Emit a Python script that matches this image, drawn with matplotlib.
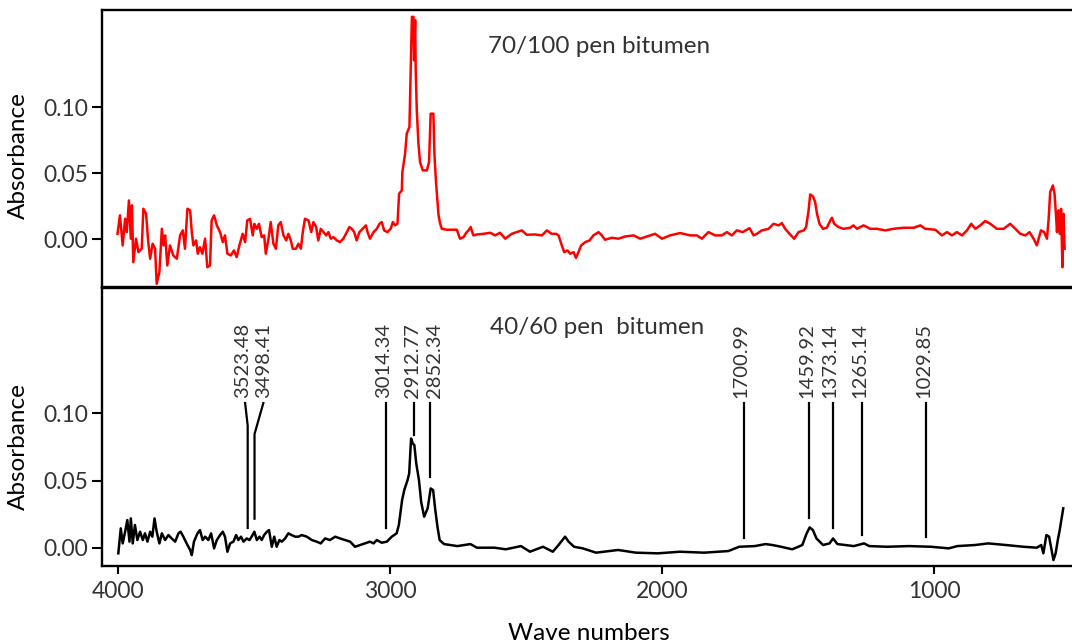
import matplotlib
matplotlib.use("Agg")
import matplotlib.pyplot as plt

# ---- data (wavenumber cm-1, absorbance) ----
wn_70 = [4002, 3993, 3983, 3974, 3968, 3960, 3953, 3949, 3944, 3934, 3925, 3913, 3907, 3897,
         3889, 3882, 3873, 3864, 3858, 3848, 3839, 3833, 3827, 3819, 3809, 3797, 3784, 3772,
         3762, 3754, 3745, 3735, 3729, 3723, 3713, 3707, 3699, 3690, 3680, 3672, 3662, 3656,
         3647, 3637, 3625, 3615, 3607, 3598, 3586, 3574, 3564, 3554, 3542, 3533, 3525, 3515,
         3505, 3499, 3490, 3482, 3472, 3463, 3457, 3447, 3439, 3429, 3420, 3411, 3402, 3392,
         3382, 3374, 3365, 3358, 3346, 3337, 3328, 3321, 3313, 3300, 3290, 3282, 3272, 3264,
         3255, 3245, 3235, 3227, 3218, 3208, 3196, 3184, 3172, 3159, 3150, 3141, 3132, 3123,
         3113, 3101, 3089, 3083, 3074, 3061, 3049, 3039, 3031, 3022, 3010, 2998, 2990, 2982,
         2973, 2967, 2957, 2955, 2945, 2939, 2929, 2924, 2920, 2914, 2912, 2908, 2906, 2902,
         2896, 2890, 2880, 2865, 2857, 2851, 2841, 2837, 2831, 2822, 2816, 2810, 2792, 2755,
         2743, 2730, 2721, 2712, 2704, 2694, 2681, 2657, 2632, 2614, 2596, 2577, 2553, 2516,
         2498, 2467, 2442, 2424, 2406, 2390, 2381, 2369, 2360, 2348, 2338, 2326, 2317, 2308,
         2298, 2283, 2267, 2253, 2234, 2222, 2210, 2185, 2161, 2136, 2105, 2081, 2044, 2026,
         2001, 1971, 1934, 1897, 1873, 1854, 1830, 1805, 1781, 1762, 1744, 1726, 1704, 1679,
         1664, 1652, 1634, 1609, 1591, 1572, 1560, 1548, 1532, 1515, 1499, 1480, 1471, 1462,
         1456, 1446, 1438, 1431, 1422, 1409, 1395, 1382, 1376, 1368, 1352, 1333, 1309, 1297,
         1284, 1260, 1235, 1211, 1180, 1150, 1113, 1076, 1051, 1033, 996, 972, 953, 935,
         917, 898, 880, 864, 849, 831, 813, 794, 770, 745, 721, 702, 684, 665,
         650, 635, 623, 608, 596, 586, 580, 574, 564, 558, 553, 549, 544, 539,
         534, 529, 525, 521]
ab_70 = [0.0040, 0.0180, -0.0048, 0.0154, 0.0053, 0.0293, 0.0003, 0.0256, -0.0175, 0.0003,
         -0.0099, -0.0073, 0.0230, 0.0192, -0.0023, -0.0149, -0.0035, -0.0073, -0.0339, -0.0250,
         0.0078, -0.0048, 0.0028, -0.0200, -0.0048, -0.0124, -0.0149, 0.0028, 0.0066, -0.0073,
         0.0230, 0.0218, 0.0053, -0.0048, -0.0010, -0.0111, -0.0061, -0.0111, 0.0003, -0.0213,
         -0.0200, 0.0142, 0.0180, 0.0104, 0.0053, -0.0023, 0.0028, -0.0111, -0.0124, -0.0086,
         -0.0137, -0.0048, 0.0040, -0.0023, 0.0142, 0.0154, 0.0028, 0.0116, 0.0078, 0.0116,
         0.0015, 0.0028, -0.0111, 0.0003, 0.0129, -0.0035, -0.0073, 0.0104, 0.0129, 0.0028,
         -0.0010, 0.0040, -0.0010, -0.0073, -0.0073, -0.0035, -0.0073, 0.0053, 0.0154, 0.0142,
         0.0053, 0.0129, 0.0091, -0.0010, 0.0078, 0.0053, 0.0028, 0.0053, 0.0003, 0.0015,
         -0.0010, -0.0023, 0.0003, 0.0053, 0.0091, 0.0078, 0.0053, -0.0010, 0.0053, 0.0078,
         0.0104, 0.0053, 0.0003, 0.0053, 0.0078, 0.0116, 0.0129, 0.0066, 0.0053, 0.0078,
         0.0129, 0.0104, 0.0116, 0.0344, 0.0369, 0.0508, 0.0648, 0.0799, 0.0850, 0.1318,
         0.1685, 0.1685, 0.1356, 0.1660, 0.1280, 0.0977, 0.0724, 0.0584, 0.0521, 0.0521,
         0.0584, 0.0951, 0.0951, 0.0635, 0.0420, 0.0180, 0.0116, 0.0078, 0.0071, 0.0071,
         0.0003, 0.0015, 0.0046, 0.0066, 0.0091, 0.0028, 0.0035, 0.0040, 0.0048, 0.0028,
         0.0048, 0.0003, 0.0040, 0.0066, 0.0033, 0.0035, 0.0028, 0.0066, 0.0040, 0.0040,
         0.0028, -0.0048, -0.0099, -0.0086, -0.0111, -0.0099, -0.0142, -0.0099, -0.0048, -0.0023,
         -0.0010, 0.0028, 0.0053, 0.0028, -0.0005, 0.0010, 0.0003, 0.0020, 0.0028, 0.0003,
         0.0028, 0.0040, 0.0003, 0.0028, 0.0046, 0.0028, 0.0028, 0.0003, 0.0053, 0.0028,
         0.0028, 0.0053, 0.0028, 0.0066, 0.0053, 0.0083, 0.0028, 0.0040, 0.0066, 0.0078,
         0.0116, 0.0104, 0.0121, 0.0078, 0.0040, 0.0003, 0.0053, 0.0066, 0.0091, 0.0218,
         0.0339, 0.0324, 0.0281, 0.0192, 0.0116, 0.0078, 0.0086, 0.0142, 0.0162, 0.0116,
         0.0091, 0.0078, 0.0086, 0.0104, 0.0078, 0.0104, 0.0078, 0.0078, 0.0066, 0.0078,
         0.0086, 0.0086, 0.0104, 0.0078, 0.0071, 0.0028, 0.0053, 0.0028, 0.0053, 0.0028,
         0.0066, 0.0116, 0.0078, 0.0104, 0.0137, 0.0116, 0.0078, 0.0078, 0.0116, 0.0078,
         0.0040, 0.0028, 0.0053, 0.0003, -0.0048, 0.0066, 0.0053, 0.0003, 0.0142, 0.0357,
         0.0407, 0.0344, 0.0192, 0.0053, 0.0218, 0.0040, 0.0230, -0.0213, 0.0192, -0.0073]

wn_40 = [3999, 3990, 3983, 3974, 3966, 3958, 3953, 3946, 3938, 3929, 3919, 3909, 3901, 3892,
         3882, 3874, 3866, 3858, 3848, 3839, 3827, 3815, 3803, 3790, 3778, 3770, 3760, 3748,
         3735, 3729, 3721, 3708, 3699, 3689, 3680, 3668, 3658, 3647, 3637, 3625, 3615, 3607,
         3598, 3588, 3576, 3566, 3558, 3548, 3539, 3527, 3517, 3509, 3499, 3490, 3480, 3472,
         3463, 3453, 3445, 3435, 3426, 3417, 3407, 3398, 3386, 3374, 3362, 3349, 3337, 3325,
         3306, 3288, 3270, 3255, 3239, 3221, 3202, 3184, 3165, 3147, 3129, 3110, 3092, 3074,
         3061, 3049, 3031, 3012, 2994, 2976, 2968, 2964, 2956, 2948, 2936, 2930, 2923, 2917,
         2911, 2904, 2894, 2886, 2875, 2862, 2851, 2842, 2834, 2826, 2818, 2802, 2778, 2753,
         2705, 2681, 2616, 2575, 2519, 2486, 2438, 2402, 2381, 2357, 2344, 2324, 2292, 2243,
         2162, 2097, 2016, 1935, 1846, 1757, 1717, 1660, 1620, 1595, 1563, 1522, 1485, 1469,
         1458, 1446, 1433, 1409, 1385, 1372, 1356, 1328, 1296, 1258, 1239, 1174, 1093, 1012,
         947, 915, 850, 802, 737, 672, 623, 607, 599, 588, 578, 570, 562, 554,
         546, 539, 533, 526]
ab_40 = [-0.0042, 0.0144, 0.0032, 0.0119, 0.0206, 0.0045, 0.0218, 0.0032, 0.0169, 0.0057,
         0.0119, 0.0057, 0.0107, 0.0045, 0.0119, 0.0082, 0.0218, 0.0119, 0.0032, 0.0107,
         0.0057, 0.0094, 0.0069, 0.0045, 0.0107, 0.0119, 0.0082, 0.0032, -0.0017, -0.0055,
         0.0045, 0.0107, 0.0131, 0.0057, 0.0082, 0.0057, 0.0107, -0.0005, 0.0057, 0.0094,
         0.0119, 0.0082, -0.0030, 0.0032, 0.0045, 0.0094, 0.0057, 0.0082, 0.0045, 0.0069,
         0.0057, 0.0082, 0.0119, 0.0057, 0.0082, 0.0057, 0.0094, 0.0119, 0.0131, 0.0007,
         0.0082, 0.0007, 0.0057, 0.0045, 0.0069, 0.0107, 0.0094, 0.0082, 0.0082, 0.0094,
         0.0082, 0.0057, 0.0045, 0.0032, 0.0069, 0.0057, 0.0082, 0.0069, 0.0057, 0.0045,
         0.0007, 0.0020, 0.0032, 0.0045, 0.0032, 0.0057, 0.0037, 0.0045, 0.0082, 0.0107,
         0.0169, 0.0231, 0.0355, 0.0429, 0.0503, 0.0553, 0.0813, 0.0776, 0.0764, 0.0627,
         0.0503, 0.0342, 0.0231, 0.0293, 0.0441, 0.0429, 0.0280, 0.0156, 0.0057, 0.0027,
         0.0020, 0.0012, 0.0027, 0.0000, 0.0000, -0.0012, 0.0012, -0.0030, 0.0007, -0.0030,
         0.0020, 0.0082, 0.0045, 0.0007, -0.0005, -0.0037, -0.0017, -0.0037, -0.0042, -0.0030,
         -0.0037, -0.0025, 0.0007, 0.0012, 0.0027, 0.0020, 0.0007, -0.0012, 0.0020, 0.0107,
         0.0151, 0.0131, 0.0069, 0.0020, 0.0032, 0.0069, 0.0027, 0.0020, 0.0012, 0.0032,
         0.0012, 0.0007, 0.0012, 0.0007, -0.0005, 0.0012, 0.0020, 0.0032, 0.0020, 0.0007,
         0.0000, 0.0020, -0.0042, 0.0094, 0.0082, -0.0005, -0.0092, -0.0042, 0.0057, 0.0131,
         0.0206, 0.0293]

# peak labels on the 40/60 spectrum
peak_lbl = ["3523.48", "3498.41", "3014.34", "2912.77", "2852.34",
            "1700.99", "1459.92", "1373.14", "1265.14", "1029.85"]
peak_end = [0.0147, 0.0216, 0.0147, 0.0839, 0.0526, 0.0072, 0.0221, 0.0147, 0.0094, 0.0080]

TXT = "#333333"
plt.rcParams.update({"font.family": ["Lato", "DejaVu Sans"], "font.size": 14,
                     "axes.linewidth": 1.7, "text.color": TXT,
                     "xtick.color": "black", "ytick.color": "black",
                     "xtick.labelcolor": TXT, "ytick.labelcolor": TXT})

fig = plt.figure(figsize=(10.72, 6.43), dpi=100)
fig.patch.set_facecolor("white")
L, R = 102 / 1072, 1.003
top = fig.add_axes([L, 1 - 287.5 / 643, R - L, 277.5 / 643])
bot = fig.add_axes([L, 1 - 565.7 / 643, R - L, 278.2 / 643])

for ax in (top, bot):
    ax.set_xlim(4059, 482)
    ax.set_yticks([0.0, 0.05, 0.10])
    ax.set_yticklabels(["0.00", "0.05", "0.10"])
    ax.tick_params(axis="y", direction="out", length=7, width=1.5, pad=3, labelsize=16.5)
    ax.set_ylabel("Absorbance", fontsize=17.5)

top.set_ylim(-0.0367, 0.1737)
bot.set_ylim(-0.0134, 0.1937)
top.tick_params(axis="x", bottom=False, labelbottom=False)
bot.set_xticks([4000, 3000, 2000, 1000])
bot.tick_params(axis="x", direction="out", length=6, width=1.5, pad=5, labelsize=16.5)
bot.set_xlabel("Wave numbers", fontsize=17.5, labelpad=15)
top.yaxis.set_label_coords(-0.075, 0.477)
bot.yaxis.set_label_coords(-0.075, 0.427)

top.plot(wn_70, ab_70, color="#FF0000", lw=1.8)
bot.plot(wn_40, ab_40, color="black", lw=1.8)

top.text(0.397, 0.867, "70/100 pen bitumen", transform=top.transAxes,
         fontsize=17.5, va="center", ha="left")
bot.text(0.399, 0.858, "40/60 pen  bitumen", transform=bot.transAxes,
         fontsize=17.5, va="center", ha="left")

# label lines: two first labels are spread apart with a kinked leader
lbl_x = [3533, 3466]
lbl_dx = [-2, 0, -2, -1, 3, -2, -2, -2, -2, -2]   # small text nudges, points
y_top, y_txt = 0.1077, 0.1112
for i, (s, yend) in enumerate(zip(peak_lbl, peak_end)):
    wn = float(s)
    if i < 2:
        bot.plot([lbl_x[i], wn, wn], [y_top, 0.0908 if i == 0 else 0.0846, yend],
                 color="black", lw=1.6)
        tx = lbl_x[i]
    else:
        bot.plot([wn, wn], [y_top, yend], color="black", lw=1.6)
        tx = wn
    bot.annotate(s, xy=(tx, y_txt), xytext=(lbl_dx[i], 0), textcoords="offset points",
                 rotation=90, ha="center", va="bottom", fontsize=14.5)

fig.savefig("out.png", dpi=100, facecolor="white")
